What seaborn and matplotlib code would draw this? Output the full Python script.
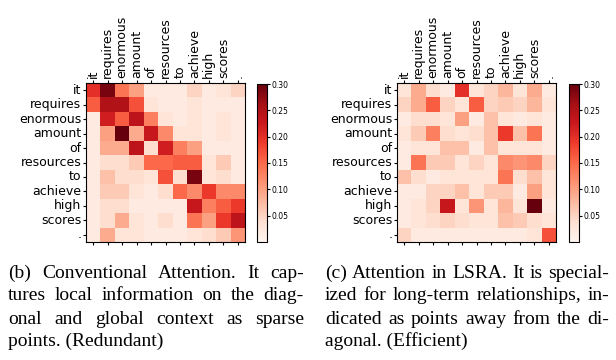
import numpy as np
import pandas as pd
import matplotlib
matplotlib.use("Agg")
import matplotlib.pyplot as plt
import seaborn as sns

words = ["it", "requires", "enormous", "amount", "of", "resources", "to",
         "achieve", "high", "scores", "."]

conventional = [
    [0.20, 0.29, 0.14, 0.10, 0.02, 0.02, 0.02, 0.05, 0.02, 0.03, 0.05],
    [0.16, 0.25, 0.25, 0.17, 0.03, 0.02, 0.02, 0.03, 0.02, 0.02, 0.02],
    [0.02, 0.22, 0.16, 0.24, 0.13, 0.03, 0.02, 0.03, 0.02, 0.03, 0.02],
    [0.02, 0.10, 0.30, 0.09, 0.23, 0.12, 0.03, 0.03, 0.02, 0.03, 0.02],
    [0.02, 0.09, 0.09, 0.24, 0.04, 0.22, 0.13, 0.10, 0.02, 0.02, 0.02],
    [0.02, 0.04, 0.04, 0.06, 0.15, 0.15, 0.16, 0.16, 0.03, 0.06, 0.02],
    [0.02, 0.07, 0.04, 0.04, 0.03, 0.17, 0.04, 0.29, 0.03, 0.04, 0.02],
    [0.02, 0.06, 0.06, 0.03, 0.02, 0.04, 0.15, 0.12, 0.19, 0.12, 0.12],
    [0.02, 0.04, 0.04, 0.02, 0.02, 0.02, 0.02, 0.23, 0.13, 0.16, 0.19],
    [0.02, 0.04, 0.09, 0.03, 0.02, 0.04, 0.02, 0.14, 0.10, 0.19, 0.24],
    [0.02, 0.09, 0.03, 0.03, 0.02, 0.02, 0.02, 0.03, 0.04, 0.06, 0.11],
]

lsra = [
    [0.03, 0.09, 0.04, 0.02, 0.20, 0.03, 0.05, 0.08, 0.03, 0.09, 0.02],
    [0.05, 0.09, 0.16, 0.05, 0.03, 0.16, 0.05, 0.06, 0.05, 0.08, 0.03],
    [0.02, 0.04, 0.04, 0.03, 0.10, 0.02, 0.07, 0.03, 0.02, 0.03, 0.02],
    [0.03, 0.06, 0.13, 0.04, 0.03, 0.04, 0.07, 0.19, 0.07, 0.14, 0.02],
    [0.02, 0.03, 0.03, 0.07, 0.07, 0.02, 0.07, 0.03, 0.03, 0.03, 0.02],
    [0.02, 0.14, 0.06, 0.06, 0.03, 0.05, 0.03, 0.12, 0.11, 0.12, 0.05],
    [0.07, 0.04, 0.02, 0.03, 0.03, 0.03, 0.03, 0.14, 0.04, 0.07, 0.03],
    [0.02, 0.02, 0.05, 0.05, 0.07, 0.03, 0.06, 0.06, 0.02, 0.10, 0.03],
    [0.02, 0.03, 0.05, 0.23, 0.03, 0.11, 0.03, 0.08, 0.03, 0.30, 0.02],
    [0.02, 0.03, 0.04, 0.05, 0.04, 0.03, 0.03, 0.07, 0.06, 0.04, 0.03],
    [0.05, 0.02, 0.02, 0.02, 0.02, 0.02, 0.02, 0.02, 0.02, 0.03, 0.17],
]

caption_b = ["(b) Conventional Attention. It cap-",
             "tures local information on the diag-",
             "onal and global context as sparse",
             "points. (Redundant)"]
caption_c = ["(c) Attention in LSRA. It is special-",
             "ized for long-term relationships, in-",
             "dicated as points away from the di-",
             "agonal. (Efficient)"]

cbar_ticks = [0.05, 0.10, 0.15, 0.20, 0.25, 0.30]

W, H = 616, 360
fig = plt.figure(figsize=(W / 100, H / 100), dpi=100)
fig.patch.set_facecolor("white")


def px(x0, y0, w, h):
    return [x0 / W, 1 - (y0 + h) / H, w / W, h / H]


def draw(data, ax_rect, cax_rect):
    ax = fig.add_axes(px(*ax_rect))
    cax = fig.add_axes(px(*cax_rect))
    df = pd.DataFrame(data, index=words, columns=words)
    sns.heatmap(df, ax=ax, cbar_ax=cax, cmap="Reds", vmin=0.0, vmax=0.30,
                xticklabels=1, yticklabels=1,
                cbar_kws={"ticks": cbar_ticks})
    ax.xaxis.tick_top()
    ax.tick_params(axis="x", which="both", top=True, bottom=True,
                   labeltop=True, labelbottom=False, rotation=90,
                   labelsize=9, length=2.5, pad=1)
    ax.tick_params(axis="y", rotation=0, labelsize=9, length=2.5, pad=1)
    for lab in ax.get_xticklabels():
        lab.set_verticalalignment("bottom")
    for s in ax.spines.values():
        s.set_visible(True)
        s.set_color("black")
        s.set_linewidth(0.8)
    cax.tick_params(labelsize=5.5, length=2, pad=1)
    cax.set_yticklabels([f"{t:.2f}" for t in cbar_ticks])
    cb = ax.collections[0].colorbar
    cb.outline.set_visible(True)
    cb.outline.set_edgecolor("black")
    cb.outline.set_linewidth(0.8)


draw(conventional, (86, 83, 159, 159), (257, 84, 10, 158))
draw(lsra, (397, 83, 159, 159), (569, 84, 10, 158))

serif = ["Liberation Serif", "DejaVu Serif"]
fsize = 14
line_y = [273, 296, 319, 341]
renderer = fig.canvas.get_renderer()


def text_width(s):
    t = fig.text(0, 0, s, family=serif, fontsize=fsize)
    w = t.get_window_extent(renderer=renderer).width
    t.remove()
    return w


for cap, x0, x1 in ((caption_b, 8, 304), (caption_c, 325, 609)):
    for i, (txt, y) in enumerate(zip(cap, line_y)):
        yy = 1 - y / H
        if i == len(cap) - 1:
            fig.text(x0 / W, yy, txt, family=serif, fontsize=fsize,
                     ha="left", va="center")
            continue
        ws = txt.split(" ")
        widths = [text_width(w) for w in ws]
        gap = (x1 - x0 - sum(widths)) / (len(ws) - 1)
        x = x0
        for w, wd in zip(ws, widths):
            fig.text(x / W, yy, w, family=serif, fontsize=fsize,
                     ha="left", va="center")
            x += wd + gap

fig.savefig("out.png", dpi=100, facecolor="white")
